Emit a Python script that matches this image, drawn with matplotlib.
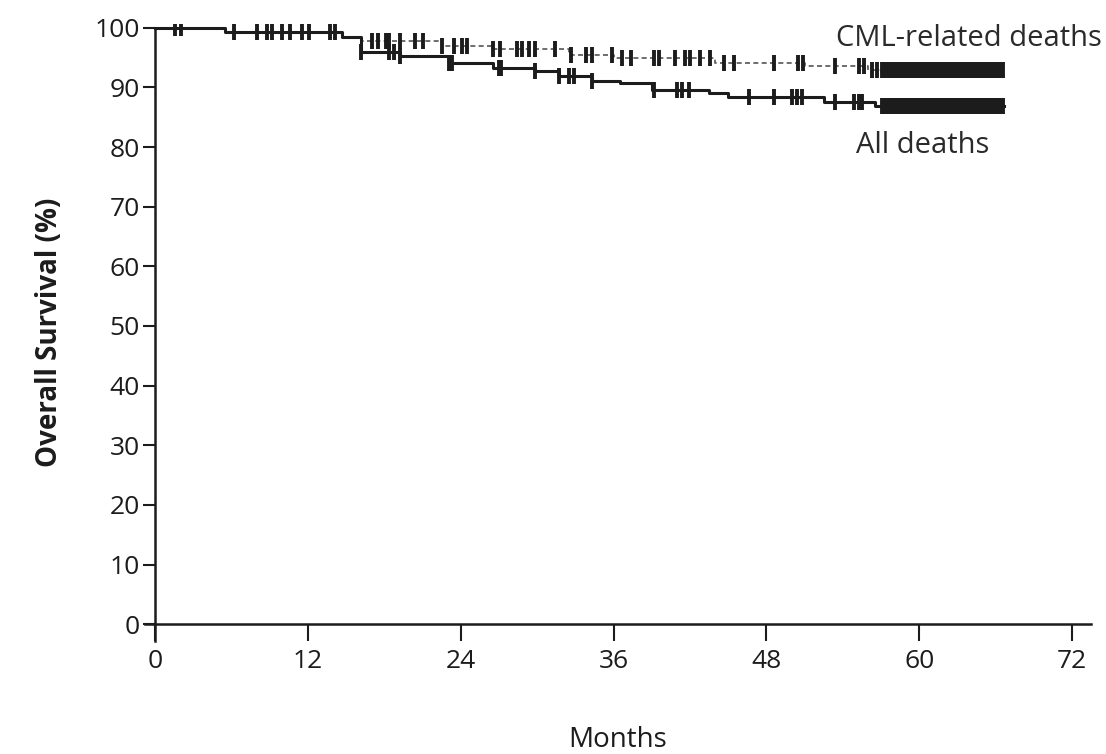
import numpy as np
import matplotlib
matplotlib.use("Agg")
import matplotlib.pyplot as plt

plt.rcParams['font.family'] = ['Open Sans', 'DejaVu Sans']

# ---- data ----
all_times = [0, 5.5, 14.7, 16.2, 19.2, 23.1, 26.5, 29.8, 31.7, 34.3, 36.5, 39.0, 43.5, 45.0, 52.5, 56.5]
all_surv = [100, 99.3, 98.5, 96.0, 95.2, 94.0, 93.2, 92.7, 91.9, 91.1, 90.7, 89.6, 89.0, 88.3, 87.6, 86.9]
all_end = 66.7

cml_times = [0, 5.5, 14.7, 16.2, 22.5, 26.5, 32.5, 36.0, 44.0, 51.0, 56.0]
cml_surv = [100, 99.3, 98.5, 97.7, 96.9, 96.5, 95.4, 94.9, 94.0, 93.5, 92.9]
cml_end = 66.6

cml_censor = [1.6, 2.0, 6.2, 8.0, 8.8, 9.2, 10.0, 10.6, 11.5, 12.1, 13.7, 14.1, 17.0, 17.5, 18.1,
              18.4, 19.2, 20.4, 21.0, 22.5, 23.5, 24.1, 24.5, 26.5, 27.1, 28.4, 28.8, 29.4, 29.8,
              31.4, 32.7, 33.8, 34.3, 35.9, 36.7, 37.4, 39.2, 39.6, 40.8, 41.6, 42.0, 42.8, 43.6,
              44.7, 45.5, 48.6, 50.5, 50.9, 53.4, 55.3, 55.7, 56.3, 56.7,
              57.1, 57.25, 57.4, 57.55, 57.7, 57.85, 58.0, 58.15, 58.3, 58.45, 58.6, 58.75, 58.9,
              59.05, 59.2, 59.35, 59.5, 59.65, 59.8, 59.95, 60.1, 60.25, 60.4, 60.55, 60.7, 60.85,
              61.0, 61.15, 61.3, 61.45, 61.6, 61.75, 61.9, 62.05, 62.2, 62.35, 62.5, 62.65, 62.8,
              62.95, 63.1, 63.25, 63.4, 63.55, 63.7, 63.85, 64.0, 64.15, 64.3, 64.45, 64.6, 64.75,
              64.9, 65.05, 65.2, 65.35, 65.5, 65.65, 65.8, 65.95, 66.1, 66.25, 66.4, 66.55]
all_censor = [16.2, 18.4, 18.8, 19.2, 23.1, 23.3, 27.0, 27.2, 29.8, 31.7, 32.5, 32.9, 34.3,
              39.2, 41.0, 41.4, 41.9, 46.6, 48.6, 50.0, 50.4, 50.8, 53.4, 54.9, 55.3, 55.5,
              57.1, 57.25, 57.4, 57.55, 57.7, 57.85, 58.0, 58.15, 58.3, 58.45, 58.6, 58.75, 58.9,
              59.05, 59.2, 59.35, 59.5, 59.65, 59.8, 59.95, 60.1, 60.25, 60.4, 60.55, 60.7, 60.85,
              61.0, 61.15, 61.3, 61.45, 61.6, 61.75, 61.9, 62.05, 62.2, 62.35, 62.5, 62.65, 62.8,
              62.95, 63.1, 63.25, 63.4, 63.55, 63.7, 63.85, 64.0, 64.15, 64.3, 64.45, 64.6, 64.75,
              64.9, 65.05, 65.2, 65.35, 65.5, 65.65, 65.8, 65.95, 66.1, 66.25, 66.4, 66.6]

x_ticks = [0, 12, 24, 36, 48, 60, 72]
y_ticks = [0, 10, 20, 30, 40, 50, 60, 70, 80, 90, 100]


def surv_at(times, surv, t):
    i = np.searchsorted(times, t, side='right') - 1
    return np.asarray(surv)[i]


fig = plt.figure(figsize=(11.06, 7.54), dpi=100)
ax = fig.add_axes([0.1310, 0.150, 0.8555, 0.818])
ink = '#1c1c1c'

# curves
ct = list(cml_times) + [cml_end]
cs = list(cml_surv) + [cml_surv[-1]]
ax.step(ct, cs, where='post', color='#555555', lw=1.2, linestyle=(0, (3, 2)), zorder=2)
at = list(all_times) + [all_end]
as_ = list(all_surv) + [all_surv[-1]]
ax.step(at, as_, where='post', color=ink, lw=2.2, zorder=3)

# censor marks
cc = np.array(cml_censor)
ax.plot(cc, surv_at(cml_times, cml_surv, cc), linestyle='none', marker='|',
        markersize=12, markeredgewidth=2.8, color=ink, zorder=4)
ac = np.array(all_censor)
ax.plot(ac, surv_at(all_times, all_surv, ac), linestyle='none', marker='|',
        markersize=12, markeredgewidth=2.8, color=ink, zorder=4)

# axes styling
ax.set_xlim(-0.8, 73.5)
ax.set_ylim(-2.8, 100.6)
ax.spines['top'].set_visible(False)
ax.spines['right'].set_visible(False)
ax.spines['left'].set_position(('data', 0))
ax.spines['bottom'].set_position(('data', 0))
for s in ('left', 'bottom'):
    ax.spines[s].set_linewidth(1.8)
    ax.spines[s].set_color(ink)
ax.spines['left'].set_bounds(-2.8, 100)

ax.set_xticks(x_ticks)
ax.set_yticks(y_ticks)
ax.tick_params(axis='both', direction='out', colors=ink, width=1.5, labelsize=19)
ax.tick_params(axis='x', length=12, pad=6)
ax.tick_params(axis='y', length=9, pad=2)

ax.set_xlabel('Months', fontsize=20, color=ink, labelpad=37)
ax.set_ylabel('Overall Survival (%)', fontsize=20, color=ink, fontweight='bold', labelpad=22)

ax.text(74.3, 98.2, 'CML-related deaths', ha='right', va='center', fontsize=21,
        color='#2a2a2a', clip_on=False)
ax.text(60.3, 80.3, 'All deaths', ha='center', va='center', fontsize=21,
        color='#2a2a2a', clip_on=False)

fig.savefig('out.png', dpi=100, facecolor='white')
